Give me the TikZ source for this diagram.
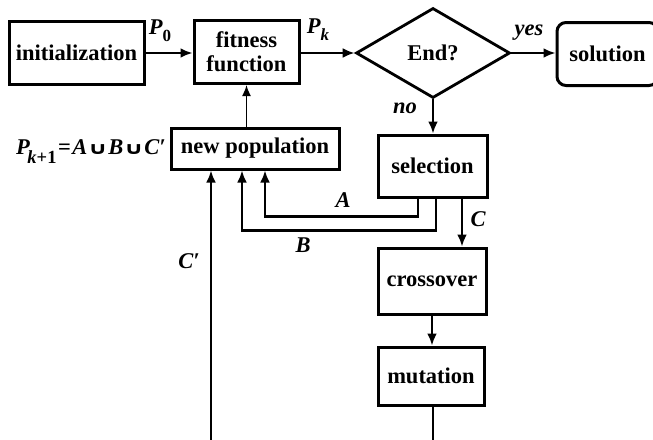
\documentclass[tikz,border=0pt]{standalone}
\usepackage{fontspec}
\setmainfont{Liberation Serif}
\newfontfamily\cupfont{DejaVu Sans}
\usetikzlibrary{shapes.geometric,arrows.meta}
\begin{document}
\begin{tikzpicture}[x=1pt,y=-1pt,
  every node/.style={font={\fontsize{22.5}{25}\selectfont\bfseries}},
  box/.style={draw,line width=3pt,inner sep=0pt,align=center},
  lbl/.style={font={\fontsize{22.5}{25}\selectfont\bfseries\itshape},inner sep=0pt},
  arr/.style={line width=2.8pt,-{Latex[length=12pt,width=10pt]}},
  thinarr/.style={line width=1.7pt,-{Latex[length=11pt,width=9pt]}}]
\path[use as bounding box,fill=white] (0,0) rectangle (653,439);
% boxes
\node[box,minimum width=135pt,minimum height=63pt] (init) at (76.5,53) {initialization};
\node[box,minimum width=105pt,minimum height=63pt] (fit) at (246.5,52) {fitness\\[-1pt]function};
\node[draw,line width=2.8pt,shape=diamond,inner sep=0pt,minimum width=154pt,minimum height=90pt] (dia) at (433,53) {End?};
\node[box,rounded corners=9pt,minimum width=101pt,minimum height=63pt] (sol) at (607.5,54) {solution};
\node[box,minimum width=168pt,minimum height=41pt] (np) at (255,148.5) {new population};
\node[box,minimum width=109pt,minimum height=62pt] (sel) at (432.5,166) {selection};
\node[box,minimum width=108pt,minimum height=66pt] (cross) at (432,281) {crossover};
\node[box,minimum width=106pt,minimum height=58pt] (mut) at (431,376) {mutation};
% connectors
\draw[arr] (init.east) -- (init.east -| fit.west);
\draw[arr] (fit.east |- dia.west) -- (dia.west);
\draw[arr] (dia.east) -- (dia.east -| sol.west);
\draw[arr] (dia.south) -- (dia.south |- sel.north);
\draw[thinarr] (fit.south |- np.north) -- (fit.south);
\draw[arr] ([xshift=-14.5pt]sel.south) -- ++(0,18) -| ([xshift=10pt]np.south);
\draw[arr] ([xshift=3.5pt]sel.south) -- ++(0,32) -| ([xshift=-13pt]np.south);
\draw[arr] ([xshift=29.5pt]sel.south) -- ([xshift=30pt]cross.north);
\draw[arr] (cross.south) -- (cross.south |- mut.north);
\draw[arr] ([xshift=2pt]mut.south) -- ++(0,34.5) -| ([xshift=-44pt]np.south);
% labels
\node[lbl] (p0) at (160,31) {P\raisebox{-0.3em}{\fontsize{17}{17}\selectfont\upshape 0}};
\node[lbl] (pk) at (318,30) {P\raisebox{-0.3em}{\fontsize{17}{17}\selectfont k}};
\node[lbl] (yes) at (529,33) {yes};
\node[lbl] (no) at (405,108) {no};
\node[lbl] (la) at (343,200) {A};
\node[lbl] (lb) at (303,245) {B};
\node[lbl] (lc) at (478,219) {C};
\node[lbl] (lcp) at (189,261) {C′};
\node[lbl,anchor=east] (pk1) at (166,152) {P\kern-2.5pt\raisebox{-0.4em}{\fontsize{18.5}{18}\selectfont k\upshape +1}\kern1.5pt\upshape =\kern1.5pt\itshape A\kern0.5pt\scalebox{1.3}[0.9]{\cupfont\upshape\bfseries\fontsize{19}{19}\selectfont ∪}\kern0.5pt B\kern0.5pt\scalebox{1.3}[0.9]{\cupfont\upshape\bfseries\fontsize{19}{19}\selectfont ∪}\kern0.5pt C′};
\end{tikzpicture}
\end{document}
